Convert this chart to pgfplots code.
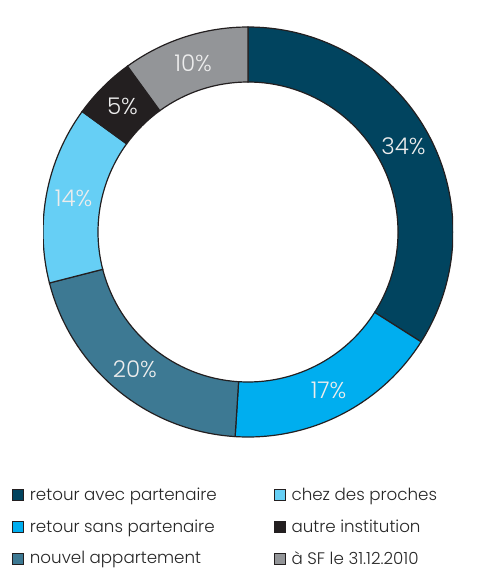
\documentclass[border=0pt]{standalone}
\usepackage{pgfplots}
\usepackage{pgfplotstable}
\pgfplotsset{compat=1.18}
\usetikzlibrary{calc}
\usepackage{fontspec}
\setmainfont{Poppins}
\newfontfamily\lightfont{Poppins Light}
\definecolor{c0}{HTML}{01445F}
\definecolor{c1}{HTML}{00AEEF}
\definecolor{c2}{HTML}{3D7993}
\definecolor{c3}{HTML}{66CFF5}
\definecolor{c4}{HTML}{231F20}
\definecolor{c5}{HTML}{939598}
\definecolor{edge}{HTML}{231F20}
\pgfplotstableread[col sep=comma]{
label,value
retour avec partenaire,34
retour sans partenaire,17
nouvel appartement,20
chez des proches,14
autre institution,5
à SF le 31.12.2010,10
}\data
\xdef\cum{90}%
\foreach \i in {0,...,5}{%
  \pgfplotstablegetelem{\i}{value}\of\data
  \xdef\val{\pgfplotsretval}%
  \pgfmathsetmacro\s{\cum}%
  \pgfmathsetmacro\e{\cum-3.6*\val}%
  \pgfmathsetmacro\m{(\s+\e)/2}%
  \expandafter\xdef\csname sA\i\endcsname{\s}%
  \expandafter\xdef\csname eA\i\endcsname{\e}%
  \expandafter\xdef\csname mA\i\endcsname{\m}%
  \expandafter\xdef\csname v\i\endcsname{\val}%
  \xdef\cum{\e}%
}
\newcommand\Ro{205pt}
\newcommand\Ri{150pt}
\begin{document}
\begin{tikzpicture}
\useasboundingbox (0,0) rectangle (488pt,-572pt);
\begin{axis}[
  at={(248pt,-232pt)}, anchor=origin,
  scale only axis, width=410pt, height=410pt,
  xmin=-205, xmax=205, ymin=-205, ymax=205,
  hide axis,
  legend columns=2,
  legend image code/.code={\draw[#1, line width=0.7pt] (0pt,-5.5pt) rectangle (11pt,5.5pt);},
  legend style={draw=none, fill=none, at={(axis cs:-236,-254)}, anchor=north west,
    font=\lightfont\fontsize{16.7}{19}\selectfont, text=black!85,
    row sep=13.5pt, inner sep=0pt,
    /tikz/column 2/.style={column sep=51pt},
    nodes={inner ysep=2pt, inner xsep=6pt}},
  legend cell align=left,
]
\pgfplotsinvokeforeach{0,...,5}{
  \filldraw[fill=c#1, draw=edge, line width=1.2pt, line join=miter]
    ($(axis cs:0,0)+(\csname sA#1\endcsname:\Ro)$)
    arc[start angle=\csname sA#1\endcsname, end angle=\csname eA#1\endcsname, radius=\Ro]
    -- ($(axis cs:0,0)+(\csname eA#1\endcsname:\Ri)$)
    arc[start angle=\csname eA#1\endcsname, end angle=\csname sA#1\endcsname, radius=\Ri]
    -- cycle;
}
\pgfplotsinvokeforeach{0,...,5}{
  \node[text=white!93!black, font=\lightfont\fontsize{23}{27}\selectfont]
    at ($(axis cs:0,0)+(\csname mA#1\endcsname:177.5pt)$) {\csname v#1\endcsname\%};
}
\addlegendimage{fill=c0, draw=edge}
\addlegendentry{retour avec partenaire}
\addlegendimage{fill=c3, draw=edge}
\addlegendentry{chez des proches}
\addlegendimage{fill=c1, draw=edge}
\addlegendentry{retour sans partenaire}
\addlegendimage{fill=c4, draw=edge}
\addlegendentry{autre institution}
\addlegendimage{fill=c2, draw=edge}
\addlegendentry{nouvel appartement}
\addlegendimage{fill=c5, draw=edge}
\addlegendentry{à SF le 31.12.2010}
\end{axis}
\end{tikzpicture}
\end{document}
